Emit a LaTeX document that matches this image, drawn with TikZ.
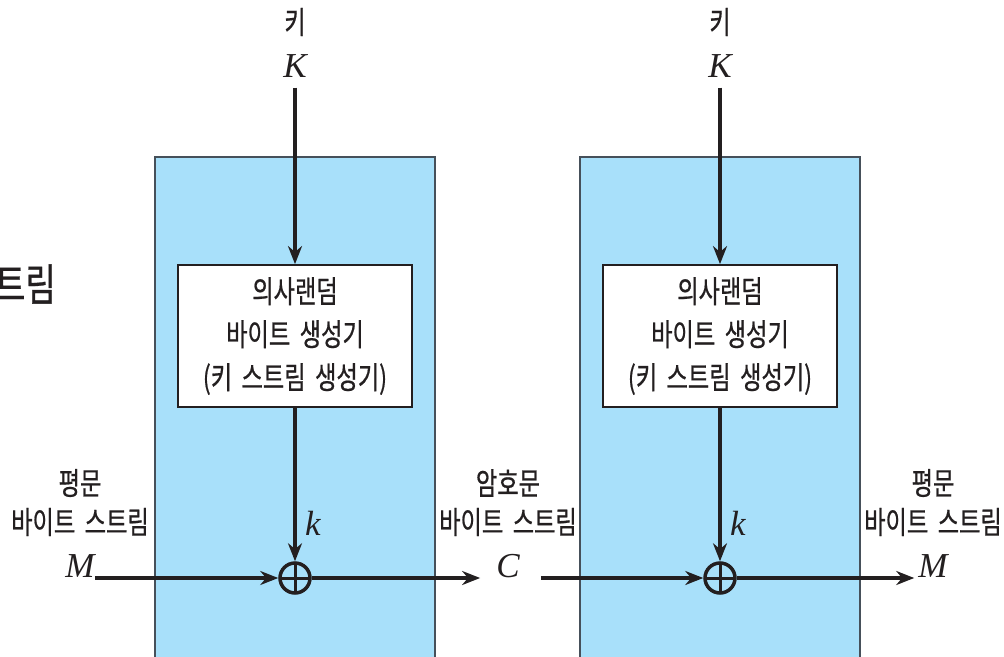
\documentclass[tikz,border=0pt]{standalone}
\usepackage{fontspec}
\setmainfont{Liberation Serif}
\newfontfamily\kr[FakeStretch=0.75,FakeBold=0.6,WordSpace=1.8]{Noto Sans CJK KR}
\usetikzlibrary{arrows.meta}
\definecolor{boxblue}{RGB}{168,224,250}
\definecolor{ink}{RGB}{35,31,32}
\definecolor{edgegrey}{RGB}{70,80,90}
\begin{document}
\begin{tikzpicture}[x=1pt,y=-1pt,
  kt/.style={font=\kr\fontsize{31}{43}\selectfont, inner sep=0pt, align=center, text=ink},
  bigkt/.style={font=\kr\fontsize{44}{44}\selectfont, inner sep=0pt, text=ink},
  var/.style={font=\itshape\fontsize{35}{35}\selectfont, inner sep=0pt, text=ink},
  outerbox/.style={draw=edgegrey, line width=1.5pt, fill=boxblue, minimum width=280pt, minimum height=543pt, inner sep=0pt},
  genbox/.style={draw=ink, line width=1.8pt, fill=white, minimum width=234pt, minimum height=142pt, inner sep=0pt, kt},
  flow/.style={draw=ink, line width=4.8pt, -{Stealth[length=18pt,width=14pt]}},
  xorc/.style={circle, draw=ink, line width=3.5pt, minimum size=30pt, inner sep=0pt, fill=boxblue,
    path picture={\draw[ink, line width=3pt] (path picture bounding box.north) -- (path picture bounding box.south)
                  (path picture bounding box.west) -- (path picture bounding box.east);}},
]
\clip (0,0) rectangle (1004,656);
\fill[white] (0,0) rectangle (1004,656);

% cropped text at left edge
\node[bigkt, anchor=east] (frag) at (56,284) {스트림};

% outer boxes
\node[outerbox] (b1) at (295,428.5) {};
\node[outerbox] (b2) at (720,428.5) {};

% generators
\node[genbox] (g1) at (295,336) {의사랜덤\\바이트 생성기\\(키 스트림 생성기)};
\node[genbox] (g2) at (720,336) {의사랜덤\\바이트 생성기\\(키 스트림 생성기)};

% keys
\node[kt] (key1) at (295,22) {키};
\node[var] (K1) at (295,66) {K};
\node[kt] (key2) at (720,22) {키};
\node[var] (K2) at (720,66) {K};

% xor
\node[xorc] (x1) at (295,578) {};
\node[xorc] (x2) at (720,578) {};

% k labels
\node[var] (k1) at (313,523) {k};
\node[var] (k2) at (738,523) {k};

% stream labels
\node[kt] (p1) at (80,483) {평문};
\node[kt] (p1b) at (80,522) {바이트 스트림};
\node[var] (M1) at (80,566) {M};

\node[kt] (c1) at (508,483) {암호문};
\node[kt] (c1b) at (508,522) {바이트 스트림};
\node[var] (C) at (508,566) {C};

\node[kt] (p2) at (933,483) {평문};
\node[kt] (p2b) at (933,522) {바이트 스트림};
\node[var] (M2) at (933,566) {M};

% connectors
\draw[flow] ([yshift=-10pt]K1.south) -- (g1.north);
\draw[flow] ([yshift=-10pt]K2.south) -- (g2.north);
\draw[flow] (g1.south) -- (x1.north);
\draw[flow] (g2.south) -- (x2.north);
\draw[flow] (M1.east |- x1.west) -- (x1.west);
\draw[flow, shorten >=16pt] (x1.east) -- (C.west |- x1.east);
\draw[flow, shorten <=21pt] (C.east |- x2.west) -- (x2.west);
\draw[flow, shorten >=4pt] (x2.east) -- (M2.west |- x2.east);
\end{tikzpicture}
\end{document}
